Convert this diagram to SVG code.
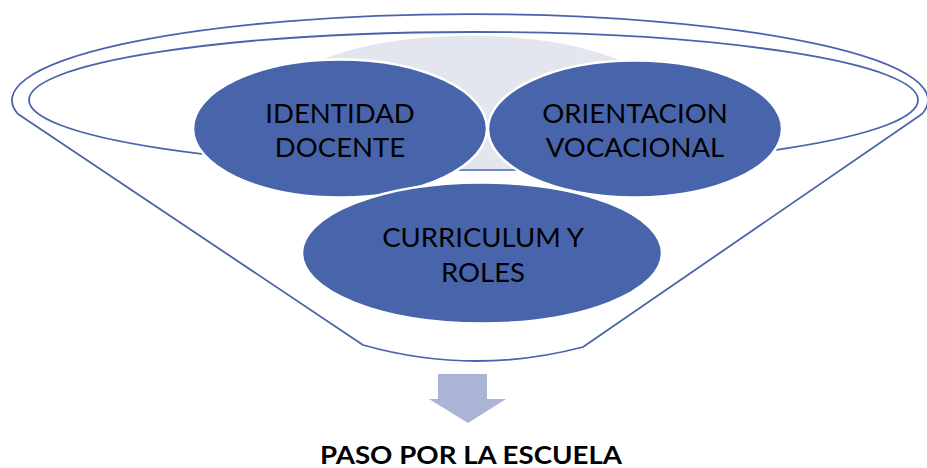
<svg xmlns="http://www.w3.org/2000/svg" width="927" height="468" viewBox="0 0 927 468">
<style>
.line{fill:none;stroke:#4A63AC;stroke-width:1.8;stroke-linejoin:round}
.node{fill:#4865AC;stroke:#FFFFFF;stroke-width:2.5}
.lbl{font-family:Lato,"Open Sans","Liberation Sans",sans-serif;font-size:27.5px;fill:#000;text-anchor:middle}
.title{font-family:Lato,"Open Sans","Liberation Sans",sans-serif;font-size:25px;font-weight:bold;fill:#000;text-anchor:middle}
</style>
<rect width="927" height="468" fill="#FFFFFF"/>
<g id="funnel">
<path class="line" d="M 363,345 L 18,114 A 458 86 0 1 1 922,114 L 583,347 Q 473,376 363,345 Z" fill="#FFFFFF"/>
<ellipse class="line" cx="473.5" cy="100" rx="444.5" ry="68"/>
<path d="M 392,170 A 197 70 0 1 1 548,170 Z" fill="#E3E6EE"/>
<line x1="440" y1="170" x2="520" y2="170" stroke="#7189C6" stroke-width="2"/>
</g>
<g id="identidad">
<ellipse class="node" cx="340" cy="128.5" rx="147" ry="69"/>
<text class="lbl" x="340" y="123">IDENTIDAD</text>
<text class="lbl" x="340" y="157">DOCENTE</text>
</g>
<g id="orientacion">
<ellipse class="node" cx="635" cy="129" rx="147" ry="68.5"/>
<text class="lbl" x="635" y="123">ORIENTACION</text>
<text class="lbl" x="635" y="157">VOCACIONAL</text>
</g>
<g id="curriculum">
<ellipse class="node" cx="482" cy="253" rx="180" ry="70.5"/>
<text class="lbl" x="483" y="247">CURRICULUM Y</text>
<text class="lbl" x="483" y="282">ROLES</text>
</g>
<g id="connectors">
<path d="M 438,374 L 487,374 L 487,399 L 506,399 L 468,423 L 429,399 L 438,399 Z" fill="#AAB4D4"/>
</g>
<g id="result">
<text class="title" x="471" y="464" textLength="302" lengthAdjust="spacingAndGlyphs">PASO POR LA ESCUELA</text>
</g>
</svg>
